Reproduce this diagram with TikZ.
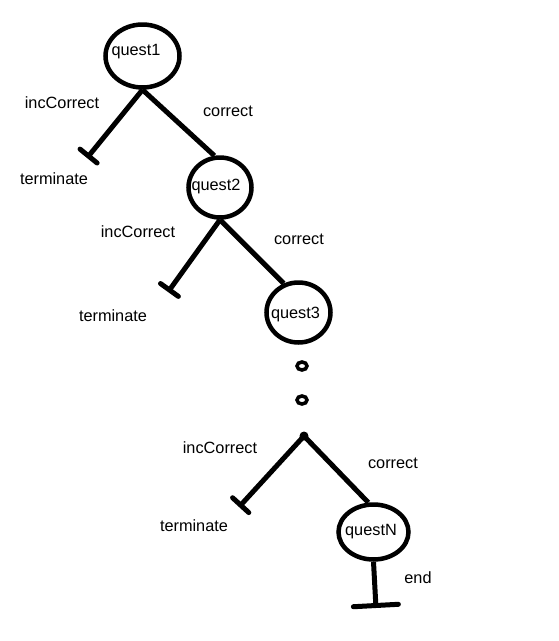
\documentclass[tikz,border=0pt]{standalone}
\usepackage{fontspec}
\setmainfont{Liberation Sans}
\usetikzlibrary{shapes.geometric,arrows.meta}
\begin{document}
\begin{tikzpicture}[x=1pt,y=-1pt,
  qnode/.style={draw,ellipse,line width=4.5pt,inner sep=0pt},
  lbl/.style={inner sep=0pt,font=\fontsize{16.3}{19}\selectfont},
  conn/.style={line width=5pt},
  stopper/.style={conn,-{Bar[width=22pt,round]}},
  hollowdot/.style={draw,ellipse,line width=3.5pt,minimum width=10pt,minimum height=8pt,inner sep=0pt},
  soliddot/.style={fill,circle,minimum size=9pt,inner sep=0pt}]
\useasboundingbox (0,0) rectangle (558,641);
% question nodes
\node[qnode,minimum width=74pt,minimum height=63pt] (q1) at (142.5,56) {};
\node[qnode,minimum width=63pt,minimum height=60pt] (q2) at (220,187.5) {};
\node[qnode,minimum width=64pt,minimum height=60pt] (q3) at (298.5,312.5) {};
\node[qnode,minimum width=70pt,minimum height=55pt] (qN) at (373.5,532) {};
\node[lbl] (q1t) at (136,52) {quest1};
\node[lbl] (q2t) at (216,186) {quest2};
\node[lbl] (q3t) at (295.5,314) {quest3};
\node[lbl] (qNt) at (371,532) {questN};
% dots
\node[hollowdot] (d1) at (302,366) {};
\node[hollowdot] (d2) at (302,400) {};
\node[soliddot] (j) at (304,436) {};
% stopper end points
\coordinate (t1) at (87,158);
\coordinate (t2) at (168,292);
\coordinate (t3) at (239,507);
\coordinate (e) at (376,608);
% connectors
\draw[stopper] (q1.south) -- (t1);
\draw[conn] (q1.south) -- (q2.100);
\draw[stopper] (q2.south) -- (t2);
\draw[conn] (q2.south) -- (q3.117);
\draw[stopper] (j.center) -- (t3);
\draw[conn] (j.center) -- (qN.100);
\draw[conn,-{Bar[width=45pt,round]}] (qN.south) -- (e);
% labels
\node[lbl] (l1) at (62,103) {incCorrect};
\node[lbl] (l2) at (228,111) {correct};
\node[lbl] (l3) at (54,179) {terminate};
\node[lbl] (l4) at (138,232) {incCorrect};
\node[lbl] (l5) at (299,239) {correct};
\node[lbl] (l6) at (113,316) {terminate};
\node[lbl] (l7) at (220,448) {incCorrect};
\node[lbl] (l8) at (393,463) {correct};
\node[lbl] (l9) at (194,526) {terminate};
\node[lbl] (l10) at (418,578) {end};
\end{tikzpicture}
\end{document}
